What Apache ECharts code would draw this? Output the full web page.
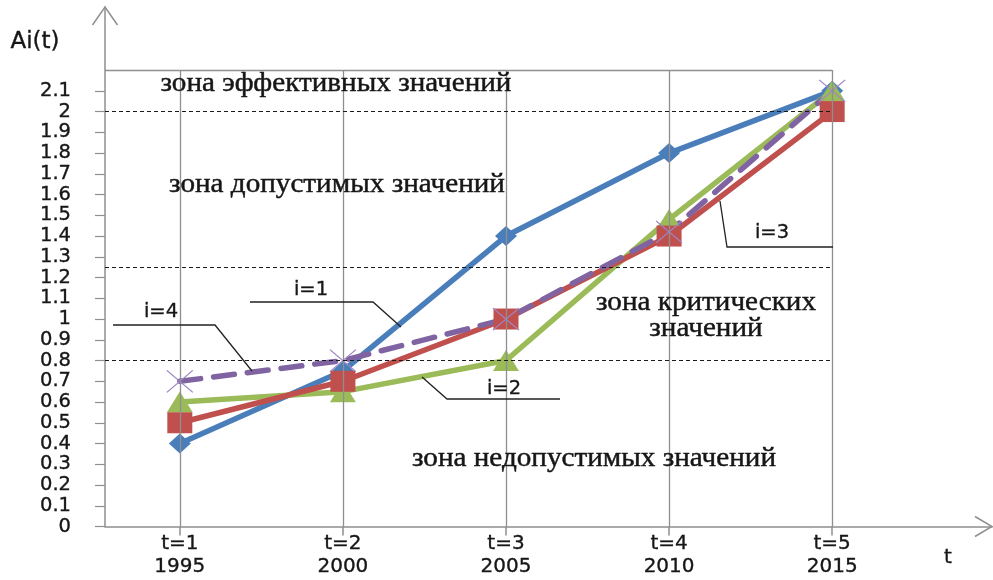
<!DOCTYPE html>
<html>
<head>
<meta charset="utf-8">
<script src="https://cdn.jsdelivr.net/npm/echarts@6/dist/echarts.min.js"></script>
<style>
  html, body { margin: 0; padding: 0; background: #fff; }
  #chart { width: 993px; height: 580px; }
</style>
</head>
<body>
<div id="chart"></div>
<script>
// Stages t and their years
const stages = [1, 2, 3, 4, 5];
const years = ['1995', '2000', '2005', '2010', '2015'];

// Ai(t) for each indicator i
const seriesI1 = [0.4, 0.75, 1.4, 1.8, 2.1];
const seriesI2 = [0.6, 0.65, 0.8, 1.48, 2.1];
const seriesI3 = [0.5, 0.7, 1.0, 1.4, 2.0];
const seriesI4 = [0.7, 0.8, 1.0, 1.42, 2.1];

// Y tick labels
const yTicks = [0, 0.1, 0.2, 0.3, 0.4, 0.5, 0.6, 0.7, 0.8, 0.9, 1, 1.1, 1.2, 1.3, 1.4, 1.5, 1.6, 1.7, 1.8, 1.9, 2, 2.1];

// Zone boundaries and the top of the framed area
const zoneBounds = [2.0, 1.25, 0.8];
const frameTop = 2.2;

const X_MIN = 0.5413, X_MAX = 5.98;
const Y_MAX = 2.504;
const AXIS_GRAY = '#8f8f8f';
const TEXT = '#161616';

const chart = echarts.init(document.getElementById('chart'), null, { renderer: 'canvas' });

const pts = arr => stages.map((s, k) => [s, arr[k]]);

// Frame, vertical category lines and dashed zone borders
const guideLines = [];
stages.forEach(s => guideLines.push([{ coord: [s, 0] }, { coord: [s, frameTop] }]));
guideLines.push([{ coord: [X_MIN, frameTop] }, { coord: [stages[stages.length - 1], frameTop] }]);
zoneBounds.forEach(v => guideLines.push([
  { coord: [X_MIN, v], lineStyle: { color: '#1a1a1a', type: [4, 3], width: 1.2 } },
  { coord: [stages[stages.length - 1], v] }
]));

const lineSeries = (name, data, color, symbol, size, extra) => Object.assign({
  name, type: 'line', data: pts(data), z: 3,
  symbol, symbolSize: size,
  lineStyle: { color, width: 5.5, cap: 'round', join: 'round' },
  itemStyle: { color },
  animation: false
}, extra || {});

const labelFont = { fontFamily: 'DejaVu Sans', color: TEXT, textBorderColor: TEXT, textBorderWidth: 0.35 };

chart.setOption({
  backgroundColor: '#fff',
  animation: false,
  grid: { left: 105, right: 1, top: 7, bottom: 53.5, containLabel: false },
  xAxis: {
    type: 'value', min: X_MIN, max: X_MAX,
    axisLine: { show: true, onZero: false, lineStyle: { color: AXIS_GRAY, width: 1.5 } },
    axisTick: { show: true, length: 9, customValues: stages, lineStyle: { color: AXIS_GRAY, width: 1.5 } },
    axisLabel: Object.assign({
      customValues: stages, margin: 6,
      formatter: v => 't=' + v + '\n' + years[stages.indexOf(v)],
      fontSize: 20, lineHeight: 23
    }, labelFont),
    splitLine: { show: false }
  },
  yAxis: {
    type: 'value', min: 0, max: Y_MAX,
    axisLine: { show: true, onZero: false, lineStyle: { color: AXIS_GRAY, width: 1.5 } },
    axisTick: { show: true, length: 10, customValues: yTicks, lineStyle: { color: AXIS_GRAY, width: 1.2 } },
    axisLabel: Object.assign({
      customValues: yTicks, margin: 34,
      formatter: v => String(Math.round(v * 10) / 10),
      fontSize: 19.5
    }, labelFont),
    splitLine: { show: false }
  },
  series: [
    {
      type: 'line', data: [], z: 1, silent: true,
      markLine: {
        silent: true, symbol: 'none', animation: false,
        label: { show: false },
        lineStyle: { color: AXIS_GRAY, type: 'solid', width: 1.3 },
        data: guideLines
      }
    },
    lineSeries('i=1', seriesI1, '#4a7ebb', 'diamond', [22, 20]),
    lineSeries('i=2', seriesI2, '#9bbb59', 'triangle', [26, 21]),
    lineSeries('i=3', seriesI3, '#c0504d', 'rect', [25, 21]),
    lineSeries('i=4', seriesI4, '#8064a2', 'path://M0,0L10,10M10,0L0,10', [26, 22], {
      lineStyle: { color: '#8064a2', width: 5.5, type: [21, 13], cap: 'round', join: 'round' },
      itemStyle: { color: '#8064a2', borderColor: '#9d86c6', borderWidth: 1.2 }
    })
  ]
});

// Axis arrow heads, titles, zone captions and series callouts
const xEnd = chart.convertToPixel({ gridIndex: 0 }, [X_MAX, 0]);
const yEnd = chart.convertToPixel({ gridIndex: 0 }, [X_MIN, Y_MAX]);

const chevron = p => ({ type: 'polyline', silent: true, z: 10,
  shape: { points: p }, style: { stroke: AXIS_GRAY, lineWidth: 1.5, fill: null } });
const leader = p => ({ type: 'polyline', silent: true, z: 10,
  shape: { points: p }, style: { stroke: '#222', lineWidth: 1.3, fill: null } });
const serifText = (text, x, y) => ({ type: 'text', silent: true, z: 10, x, y, scaleX: 1.08,
  style: { text, fill: TEXT, stroke: TEXT, lineWidth: 0.45, font: '27px "Liberation Serif"', align: 'center', verticalAlign: 'middle' } });
const sansText = (text, x, y, size) => ({ type: 'text', silent: true, z: 10, x, y,
  style: { text, fill: TEXT, stroke: TEXT, lineWidth: 0.35, font: (size || 19.5) + 'px "DejaVu Sans"', align: 'center', verticalAlign: 'middle' } });

chart.setOption({
  graphic: [
    chevron([[xEnd[0] - 17, xEnd[1] - 10], [xEnd[0], xEnd[1]], [xEnd[0] - 17, xEnd[1] + 10]]),
    chevron([[yEnd[0] - 12.5, yEnd[1] + 18], [yEnd[0], yEnd[1]], [yEnd[0] + 12.5, yEnd[1] + 18]]),
    sansText('Ai(t)', 35, 42, 23),
    sansText('t', 948, 558, 20),
    serifText('зона эффективных значений', 336, 84),
    serifText('зона допустимых значений', 337, 185),
    serifText('зона критических', 706, 303),
    serifText('значений', 706, 329),
    serifText('зона недопустимых значений', 594, 459),
    leader([[250, 302], [373, 302], [401, 327]]),
    sansText('i=1', 311, 290),
    leader([[113, 325], [215, 325], [252, 371]]),
    sansText('i=4', 161, 312),
    leader([[422, 377], [447, 399], [560, 399]]),
    sansText('i=2', 504, 389),
    leader([[720, 201], [727, 247], [833, 247]]),
    sansText('i=3', 772, 233)
  ]
});
</script>
</body>
</html>
